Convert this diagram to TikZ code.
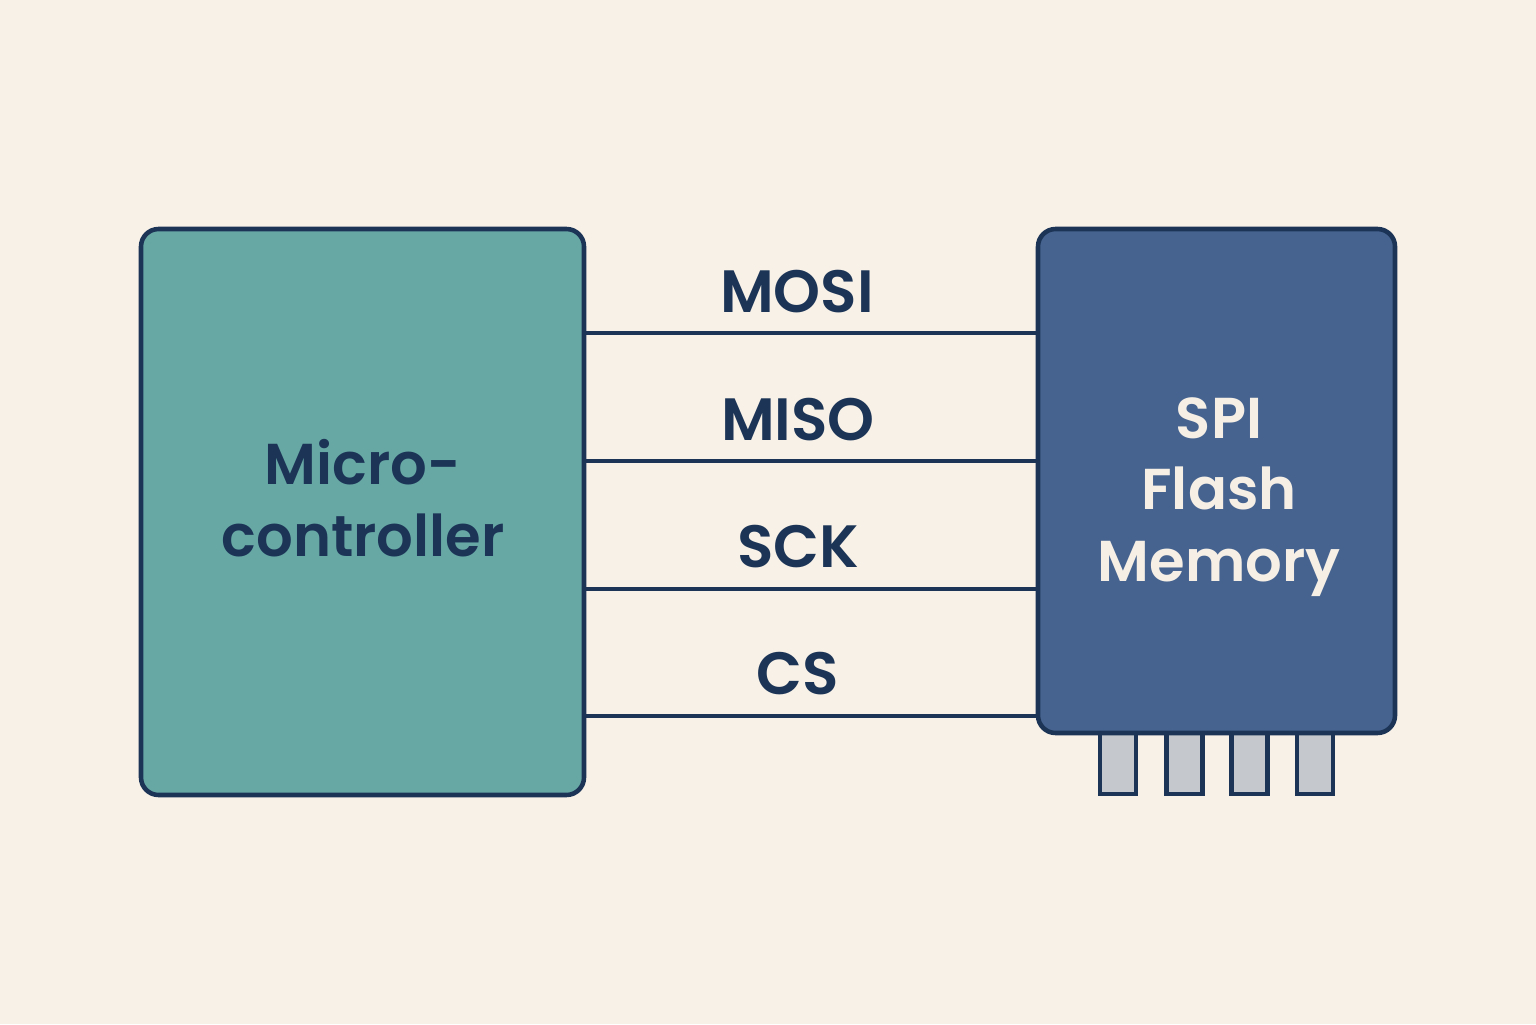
\documentclass[tikz,border=0pt]{standalone}
\usepackage{fontspec}
\setmainfont{Poppins}[BoldFont={Poppins SemiBold}]
\definecolor{paper}{HTML}{F8F1E7}
\definecolor{mcufill}{HTML}{67A8A5}
\definecolor{flashfill}{HTML}{46638F}
\definecolor{ink}{HTML}{1C3557}
\definecolor{pinfill}{HTML}{C5C8CC}
\definecolor{light}{HTML}{F5EFE6}
\begin{document}
\begin{tikzpicture}[
    line width=1.1pt,
    chip/.style={draw=ink, line width=1.3pt, rounded corners=5pt, inner sep=0pt},
    boxtext/.style={font=\fontsize{16.4}{20.3}\selectfont\bfseries, align=center, inner sep=0pt},
    signal/.style={font=\fontsize{17}{20}\selectfont\bfseries, text=ink, anchor=base, inner sep=0pt},
    wire/.style={draw=ink, line width=0.9pt},
    pin/.style={draw=ink, fill=pinfill, line width=1.2pt, minimum width=0.36cm, minimum height=0.66cm, inner sep=0pt}
]
  \useasboundingbox[fill=paper] (0,0) rectangle (15.36,10.24);

  % pins (behind the chip)
  \foreach \x [count=\i] in {11.18, 11.845, 12.495, 13.15}
    \node[pin, anchor=north] (pin\i) at (\x, 2.98) {};

  % blocks
  \node[chip, fill=mcufill, minimum width=4.43cm, minimum height=5.66cm] (mcu) at (3.625, 5.12) {};
  \node[chip, fill=flashfill, minimum width=3.57cm, minimum height=5.04cm] (flash) at (12.165, 5.43) {};
  \node[boxtext, text=ink] (mcutxt) at (3.63, 5.26) {Micro-\\controller};
  \node[boxtext, text=light] (flashtxt) at (12.19, 5.27) {SPI\\Flash\\Memory};

  % signal labels
  \node[signal] (mosi) at (7.97, 7.12) {MOSI};
  \node[signal] (miso) at (7.98, 5.84) {MISO};
  \node[signal] (sck)  at (7.98, 4.57) {SCK};
  \node[signal] (cs)   at (7.98, 3.30) {CS};

  % wires
  \coordinate (w1) at (5.84, 6.91);
  \coordinate (w2) at (5.84, 5.63);
  \coordinate (w3) at (5.84, 4.35);
  \coordinate (w4) at (5.84, 3.08);
  \foreach \w in {w1, w2, w3, w4}
    \draw[wire] (mcu.east |- \w) -- (flash.west |- \w);
\end{tikzpicture}
\end{document}
